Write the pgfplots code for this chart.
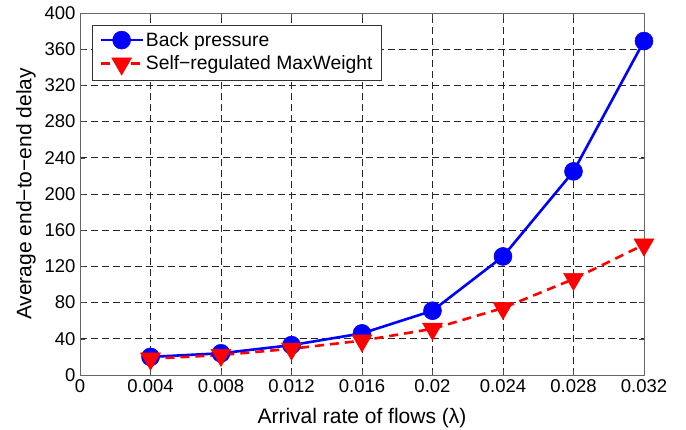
\documentclass[border=0pt]{standalone}
\usepackage{fontspec}
\setmainfont{Liberation Sans}
\usepackage{pgfplots}
\pgfplotsset{compat=1.18}
\begin{document}
\begin{tikzpicture}[x=1pt,y=1pt]
% fixed page frame around the axis box (axis box is 564 x 362 with its lower-left corner at the origin)
\useasboundingbox (-80,-54) rectangle (606,375);
\begin{axis}[
  at={(0,0)}, anchor=south west,
  scale only axis,
  width=564pt, height=362pt,
  xmin=0, xmax=0.032, ymin=0, ymax=400,
  xtick={0,0.004,0.008,0.012,0.016,0.02,0.024,0.028,0.032},
  xticklabels={0,0.004,0.008,0.012,0.016,0.02,0.024,0.028,0.032},
  ytick={0,40,80,120,160,200,240,280,320,360,400},
  scaled x ticks=false,
  /pgf/number format/assume math mode=true,
  tick label style={font=\fontsize{18.5}{21}\selectfont},
  xticklabel style={yshift=-1pt},
  yticklabel style={xshift=-1pt},
  xlabel={Arrival rate of flows (λ)},
  ylabel={Average end−to−end delay},
  xlabel style={font=\fontsize{21}{24}\selectfont, at={(rel axis cs:0.5,0)}, anchor=base,
    yshift=-48pt, inner sep=0pt},
  ylabel style={font=\fontsize{21}{24}\selectfont, at={(rel axis cs:0,0.5)},
    anchor=south, yshift=44pt, inner sep=0pt},
  tick align=inside,
  major tick length=5pt,
  tick style={black!70, line width=0.6pt},
  axis line style={black!60, line width=0.7pt},
  xmajorgrids, ymajorgrids,
  grid style={black!85, dash pattern=on 7pt off 4pt, line width=0.7pt},
  legend cell align=left,
  legend style={font=\fontsize{19.3}{22}\selectfont, draw=black!80, line width=0.7pt,
    at={(12pt,350pt)}, anchor=north west, inner xsep=7pt, inner ysep=5pt, row sep=4pt,
    /tikz/every even column/.append style={column sep=5pt}},
  legend image code/.code={
    \draw[mark repeat=2, mark phase=2, #1] plot coordinates {(0pt,0pt) (21pt,0pt) (42pt,0pt)};
  },
]
\addplot[blue, line width=2.6pt, mark=*, mark size=9pt,
  mark options={solid, fill=blue, line width=0.5pt}]
  coordinates {(0.004,20) (0.008,24) (0.012,33) (0.016,46) (0.02,71) (0.024,131) (0.028,225) (0.032,369)};
\addlegendentry{Back pressure}
\addplot[red, line width=2.6pt, dash pattern=on 9pt off 6pt, mark=triangle*, mark size=11.5pt,
  mark options={solid, fill=red, line width=0.5pt, rotate=180}]
  coordinates {(0.004,18) (0.008,22) (0.012,29) (0.016,38) (0.02,51) (0.024,74) (0.028,106) (0.032,144)};
\addlegendentry{Self−regulated MaxWeight}
\end{axis}
\end{tikzpicture}
\end{document}
